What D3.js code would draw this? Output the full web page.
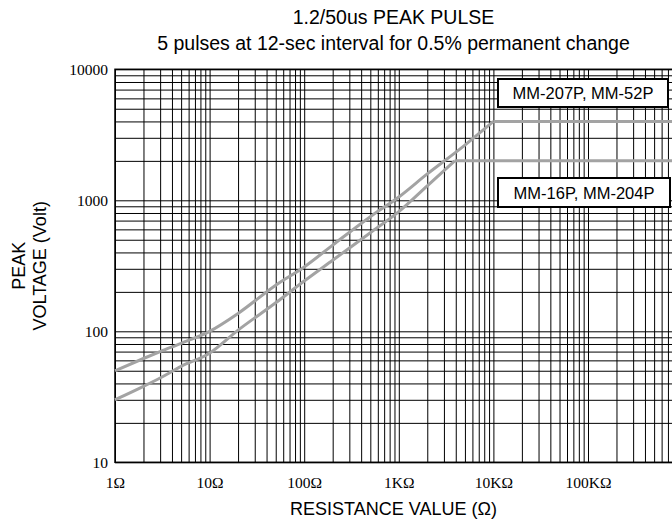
<!DOCTYPE html>
<html>
<head>
<meta charset="utf-8">
<script src="https://cdn.jsdelivr.net/npm/d3@7"></script>
<style>
  html, body { margin: 0; padding: 0; background: #fff; }
  svg { display: block; }
</style>
</head>
<body>
<svg id="chart" width="672" height="521"></svg>
<script>
// ---- data ----
const titleLines = ["1.2/50us PEAK PULSE", "5 pulses at 12-sec interval for 0.5% permanent change"];
const xTickValues = [1, 10, 100, 1000, 10000, 100000];
const xTickLabels = ["1\u03A9", "10\u03A9", "100\u03A9", "1K\u03A9", "10K\u03A9", "100K\u03A9"];
const yTickValues = [10, 100, 1000, 10000];
const yTickLabels = ["10", "100", "1000", "10000"];

const upperName = "MM-207P, MM-52P";
const upperOhms  = [1, 2, 3, 5, 10, 20, 50, 100, 200, 500, 1000, 2000, 5000, 10000, 1000000];
const upperVolts = [50, 62, 70, 81, 100, 137, 225, 310, 455, 750, 1060, 1590, 2640, 4000, 4000];

const lowerName = "MM-16P, MM-204P";
const lowerOhms  = [1, 2, 3, 5, 10, 20, 50, 100, 200, 500, 1000, 2000, 3900, 1000000];
const lowerVolts = [30, 38, 44, 54, 68, 102, 165, 242, 349, 565, 820, 1290, 2000, 2000];

const xTitle = "RESISTANCE VALUE (\u03A9)";
const yTitleLines = ["PEAK", "VOLTAGE (Volt)"];

// ---- layout ----
const svg = d3.select("#chart");
const L = 115, T = 69.3, B = 462.3, Rfull = 682.6;
const x = d3.scaleLog().domain([1, 1e6]).range([L, Rfull]);
const y = d3.scaleLog().domain([10, 10000]).range([B, T]);

const sans = "'Liberation Sans', Arial, sans-serif";
const serif = "'Liberation Serif', 'Times New Roman', serif";

// grid via axes
const gx = svg.append("g").attr("transform", `translate(0,${B})`)
  .call(d3.axisBottom(x).tickValues(x.ticks()).tickSize(-(B - T)).tickFormat(""));
gx.select(".domain").remove();
gx.selectAll("line").attr("stroke", "#000").attr("stroke-width", 1);

const gy = svg.append("g").attr("transform", `translate(${L},0)`)
  .call(d3.axisLeft(y).tickValues(y.ticks()).tickSize(-(Rfull - L)).tickFormat(""));
gy.select(".domain").remove();
gy.selectAll("line").attr("stroke", "#000").attr("stroke-width", 1);

// frame
svg.append("rect").attr("x", L).attr("y", T).attr("width", Rfull - L).attr("height", B - T)
  .attr("fill", "none").attr("stroke", "#000").attr("stroke-width", 1.5);

// tick labels via axes
const ax = svg.append("g").attr("transform", `translate(0,${B})`)
  .call(d3.axisBottom(x).tickValues(xTickValues).tickSize(0).tickPadding(15)
    .tickFormat((d, i) => xTickLabels[i]));
ax.select(".domain").remove();
ax.selectAll("text").attr("font-family", serif).attr("font-size", 15.5).attr("fill", "#000");

const ay = svg.append("g").attr("transform", `translate(${L},0)`)
  .call(d3.axisLeft(y).tickValues(yTickValues).tickSize(0).tickPadding(7)
    .tickFormat((d, i) => yTickLabels[i]));
ay.select(".domain").remove();
ay.selectAll("text").attr("font-family", serif).attr("font-size", 15.5).attr("fill", "#000");

// curves
function drawSeries(ohms, volts) {
  const pts = ohms.map((o, i) => [o, volts[i]]);
  const k = pts.length - 2; // start of plateau
  const rise = pts.slice(0, k + 1);
  const flat = pts.slice(k);
  const smooth = d3.line().x(d => x(d[0])).y(d => y(d[1])).curve(d3.curveMonotoneX);
  const straight = d3.line().x(d => x(d[0])).y(d => y(d[1]));
  svg.append("path").attr("d", smooth(rise)).attr("fill", "none")
    .attr("stroke", "#a3a3a3").attr("stroke-width", 3).attr("stroke-linejoin", "round");
  svg.append("path").attr("d", straight(flat)).attr("fill", "none")
    .attr("stroke", "#a3a3a3").attr("stroke-width", 3);
}
drawSeries(upperOhms, upperVolts);
drawSeries(lowerOhms, lowerVolts);

// label boxes
function labelBox(text, bx, by, bw, bh) {
  svg.append("rect").attr("x", bx).attr("y", by).attr("width", bw).attr("height", bh)
    .attr("fill", "#fff").attr("stroke", "#000").attr("stroke-width", 2);
  svg.append("text").attr("x", bx + bw / 2).attr("y", by + bh / 2 + 6)
    .attr("text-anchor", "middle").attr("font-family", sans).attr("font-size", 16.5)
    .attr("fill", "#000").text(text);
}
labelBox(upperName, 498, 79, 170, 28);
labelBox(lowerName, 498, 178, 172, 29);

// titles
const cx = (L + 672) / 2;
svg.append("text").attr("x", cx).attr("y", 24).attr("text-anchor", "middle")
  .attr("font-family", sans).attr("font-size", 19.5).text(titleLines[0]);
svg.append("text").attr("x", cx).attr("y", 50).attr("text-anchor", "middle")
  .attr("font-family", sans).attr("font-size", 19.5).text(titleLines[1]);

svg.append("text").attr("x", cx).attr("y", 515).attr("text-anchor", "middle")
  .attr("font-family", sans).attr("font-size", 18).text(xTitle);

const yc = (T + B) / 2;
svg.append("text").attr("transform", `translate(25,${yc}) rotate(-90)`)
  .attr("text-anchor", "middle").attr("font-family", sans).attr("font-size", 18).text(yTitleLines[0]);
svg.append("text").attr("transform", `translate(46,${yc}) rotate(-90)`)
  .attr("text-anchor", "middle").attr("font-family", sans).attr("font-size", 18).text(yTitleLines[1]);
</script>
</body>
</html>
